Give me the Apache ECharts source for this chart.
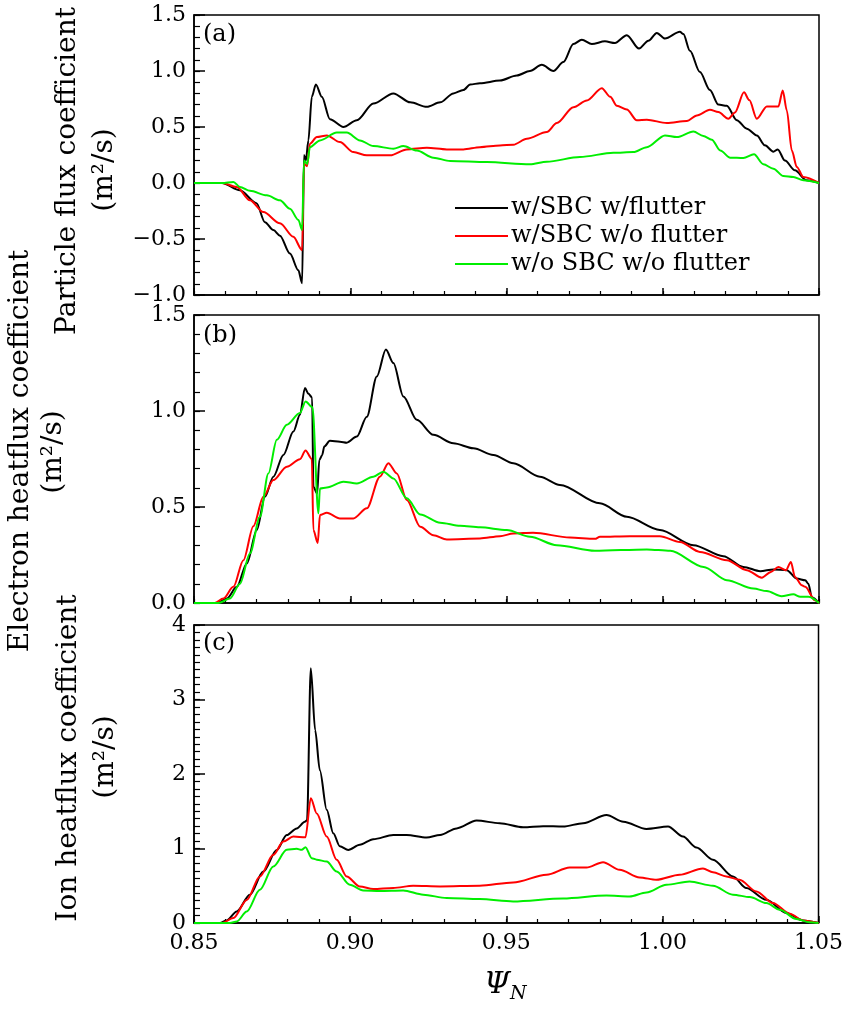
<!DOCTYPE html>
<html>
<head>
<meta charset="utf-8">
<script src="https://cdn.jsdelivr.net/npm/echarts@6/dist/echarts.min.js"></script>
<style>html,body{margin:0;padding:0;background:#fff}#c{width:846px;height:1009px}</style>
</head>
<body>
<div id="c"></div>
<script>
// ---------- data ----------
const seriesNames = ['w/SBC w/flutter', 'w/SBC w/o flutter', 'w/o SBC w/o flutter'];
const xTickLabels = ['0.85', '0.90', '0.95', '1.00', '1.05'];

// Panel (a) particle flux coefficient
const aK_x = [0.85,0.859,0.8647,0.870,0.8727,0.8754,0.8775,0.8807,0.8834,0.8846,0.8852,0.8858,0.8866,0.8877,0.889,0.8909,0.8935,0.8978,0.9021,0.9074,0.9138,0.9192,0.9245,0.9288,0.933,0.9362,0.9384,0.9415,0.9479,0.9533,0.9575,0.9613,0.965,0.9682,0.9714,0.9741,0.9773,0.9815,0.9847,0.9885,0.9924,0.9954,0.9981,1.0007,1.0055,1.0066,1.0087,1.0119,1.0151,1.0178,1.0205,1.0237,1.0269,1.0301,1.0327,1.0354,1.0368,1.0391,1.0423,1.046,1.05];
const aK_y = [0,0,-0.065,-0.18,-0.35,-0.42,-0.47,-0.63,-0.78,-0.895,0.25,0.2,0.38,0.77,0.88,0.77,0.57,0.50,0.56,0.71,0.80,0.72,0.68,0.72,0.80,0.83,0.88,0.89,0.915,0.96,1.00,1.055,1.0,1.08,1.24,1.28,1.24,1.265,1.25,1.32,1.20,1.27,1.34,1.29,1.35,1.33,1.18,0.99,0.83,0.70,0.69,0.56,0.485,0.425,0.336,0.28,0.30,0.20,0.113,0.024,0];
const aR_x = [0.85,0.859,0.8637,0.8679,0.8722,0.8775,0.8818,0.8846,0.8852,0.8862,0.8871,0.8893,0.8925,0.8967,0.901,0.9053,0.9128,0.9181,0.9245,0.9309,0.9362,0.9415,0.9479,0.9522,0.9565,0.9629,0.9661,0.9714,0.9757,0.9805,0.9832,0.9853,0.9885,0.9917,0.9949,1.0013,1.0077,1.0109,1.0151,1.0178,1.021,1.0231,1.026,1.0277,1.0301,1.0333,1.037,1.0384,1.0397,1.0413,1.0429,1.045,1.05];
const aR_y = [0,0,-0.035,-0.154,-0.26,-0.36,-0.48,-0.60,0.175,0.15,0.35,0.41,0.425,0.365,0.276,0.247,0.247,0.30,0.315,0.30,0.30,0.32,0.335,0.342,0.395,0.455,0.535,0.677,0.737,0.847,0.77,0.69,0.657,0.56,0.565,0.535,0.553,0.603,0.654,0.633,0.574,0.63,0.81,0.74,0.574,0.684,0.684,0.826,0.648,0.29,0.143,0.053,0];
const aG_x = [0.85,0.859,0.8626,0.8647,0.8679,0.8733,0.8775,0.8807,0.8834,0.8846,0.8852,0.8862,0.8871,0.8903,0.8957,0.8989,0.9031,0.9074,0.9138,0.917,0.9213,0.9266,0.932,0.9437,0.9575,0.9629,0.9735,0.9842,0.9906,0.9949,1.0007,1.0045,1.0098,1.013,1.0157,1.0184,1.0216,1.0258,1.0292,1.0322,1.0354,1.0386,1.0418,1.045,1.05];
const aG_y = [0,0,0.01,-0.035,-0.07,-0.11,-0.154,-0.23,-0.33,-0.42,0.2,0.17,0.32,0.38,0.45,0.45,0.38,0.33,0.306,0.33,0.29,0.226,0.196,0.187,0.167,0.19,0.232,0.27,0.276,0.32,0.425,0.41,0.46,0.42,0.387,0.29,0.226,0.223,0.256,0.167,0.128,0.062,0.053,0.024,0];

// Panel (b) electron heatflux coefficient
const bK_x = [0.85,0.8573,0.8605,0.8637,0.8669,0.8701,0.8727,0.8754,0.8786,0.8818,0.8839,0.8855,0.8866,0.8878,0.8882,0.8894,0.8901,0.891,0.8917,0.8935,0.8967,0.8989,0.9021,0.9053,0.9085,0.9114,0.9138,0.917,0.9213,0.9266,0.933,0.9394,0.9458,0.9522,0.9607,0.9671,0.9799,0.9885,0.9991,1.0098,1.0194,1.0258,1.0312,1.0354,1.0397,1.0429,1.0456,1.0466,1.0477,1.05];
const bK_y = [0,0,0.023,0.084,0.206,0.38,0.553,0.658,0.771,0.893,0.98,1.12,1.09,1.07,0.605,0.57,0.745,0.77,0.815,0.845,0.84,0.835,0.867,0.97,1.18,1.32,1.25,1.076,0.954,0.876,0.832,0.806,0.771,0.728,0.658,0.615,0.519,0.449,0.38,0.301,0.244,0.188,0.166,0.175,0.171,0.127,0.118,0.10,0.03,0];
const bR_x = [0.85,0.8566,0.8594,0.8626,0.8658,0.869,0.8722,0.8754,0.8797,0.8839,0.8857,0.8877,0.8882,0.8896,0.8903,0.8925,0.8967,0.901,0.9053,0.9095,0.9122,0.9149,0.9181,0.9224,0.9266,0.9309,0.9415,0.9479,0.9522,0.9585,0.9703,0.9783,0.9799,0.9895,0.9991,1.0055,1.0119,1.0205,1.0269,1.0317,1.0346,1.037,1.0394,1.041,1.0423,1.0445,1.0456,1.0487,1.05];
const bR_y = [0,0,0.023,0.084,0.223,0.40,0.553,0.64,0.71,0.749,0.794,0.75,0.38,0.313,0.458,0.47,0.44,0.44,0.493,0.658,0.728,0.675,0.536,0.397,0.353,0.331,0.336,0.348,0.362,0.366,0.341,0.334,0.345,0.348,0.348,0.318,0.266,0.223,0.171,0.132,0.162,0.188,0.171,0.214,0.136,0.092,0.085,0.014,0];
const bG_x = [0.85,0.8578,0.8615,0.8647,0.8679,0.8711,0.8738,0.8765,0.8797,0.8839,0.8857,0.8879,0.8898,0.8903,0.8925,0.8978,0.9021,0.9074,0.9106,0.9138,0.9181,0.9224,0.9288,0.9352,0.9415,0.9501,0.9575,0.9661,0.9783,0.9949,1.0024,1.0131,1.0205,1.029,1.0333,1.038,1.0418,1.044,1.0466,1.05];
const bG_y = [0,0,0.023,0.10,0.258,0.449,0.675,0.85,0.928,0.989,1.05,1.02,0.467,0.597,0.602,0.632,0.623,0.658,0.684,0.649,0.545,0.461,0.418,0.402,0.394,0.38,0.345,0.301,0.272,0.279,0.272,0.188,0.119,0.075,0.062,0.035,0.045,0.032,0.032,0];

// Panel (c) ion heatflux coefficient
const cK_x = [0.85,0.8583,0.8605,0.8637,0.8679,0.8722,0.8765,0.8797,0.8829,0.8855,0.8862,0.8874,0.8888,0.8903,0.8925,0.8946,0.8967,0.8994,0.9031,0.9074,0.9138,0.9181,0.9245,0.9288,0.9341,0.9405,0.9479,0.9554,0.9618,0.9682,0.9746,0.9821,0.9875,0.9949,1.0018,1.0066,1.0109,1.0162,1.0226,1.0269,1.0333,1.0397,1.045,1.05];
const cK_y = [0,0,0.035,0.155,0.38,0.69,0.98,1.18,1.27,1.36,1.38,3.42,2.59,2.05,1.52,1.205,1.03,0.98,1.05,1.125,1.18,1.18,1.147,1.18,1.27,1.375,1.34,1.286,1.30,1.294,1.34,1.45,1.36,1.263,1.294,1.16,1.013,0.848,0.624,0.469,0.312,0.134,0.035,0];
const cR_x = [0.85,0.859,0.8626,0.8669,0.8711,0.8754,0.8786,0.8818,0.8857,0.8874,0.8893,0.8925,0.8957,0.8989,0.9031,0.9074,0.9138,0.9202,0.9288,0.9415,0.9522,0.9629,0.9703,0.9757,0.981,0.9863,0.9927,0.9981,1.0055,1.013,1.0162,1.0205,1.0247,1.0301,1.0354,1.0408,1.045,1.05];
const cR_y = [0,0,0.067,0.31,0.625,0.915,1.093,1.16,1.15,1.675,1.47,1.16,0.848,0.624,0.49,0.455,0.47,0.50,0.49,0.50,0.544,0.647,0.745,0.745,0.817,0.714,0.611,0.58,0.647,0.732,0.68,0.625,0.58,0.424,0.268,0.125,0.035,0];
const cG_x = [0.85,0.8615,0.8637,0.8669,0.8711,0.8754,0.8797,0.8829,0.8845,0.8857,0.8877,0.8893,0.8925,0.8957,0.8999,0.9042,0.9095,0.917,0.9234,0.9309,0.9415,0.9522,0.9682,0.9821,0.9895,0.9949,1.0013,1.0087,1.0162,1.0226,1.028,1.0333,1.0376,1.0429,1.0471,1.05];
const cG_y = [0,0,0.02,0.155,0.446,0.758,0.982,0.995,0.982,1.018,0.87,0.85,0.825,0.69,0.513,0.437,0.43,0.437,0.38,0.335,0.321,0.29,0.33,0.37,0.357,0.41,0.513,0.557,0.50,0.38,0.348,0.268,0.178,0.053,0.01,0];

// ---------- chart ----------
const FONT = 'DejaVu Serif';
const colors = ['#000000', '#ff0000', '#00ee00'];
const zip = (xs, ys) => xs.map((x, i) => [x, ys[i]]);
const panels = [
  [zip(aK_x, aK_y), zip(aR_x, aR_y), zip(aG_x, aG_y)],
  [zip(bK_x, bK_y), zip(bR_x, bR_y), zip(bG_x, bG_y)],
  [zip(cK_x, cK_y), zip(cR_x, cR_y), zip(cG_x, cG_y)]
];
const gridBox = [
  {left: 194, top: 15, width: 625, height: 280},
  {left: 194, top: 315, width: 625, height: 288},
  {left: 194, top: 625, width: 625, height: 298}
];
const yCfg = [
  {min: -1, max: 1.5, interval: 0.5, minorInt: 0.1, fmt: v => (v < 0 ? '\u2212' : '') + Math.abs(v).toFixed(1)},
  {min: 0, max: 1.5, interval: 0.5, minorInt: 0.1, fmt: v => v.toFixed(1)},
  {min: 0, max: 4, interval: 1, minorInt: 0.1, fmt: v => String(Math.round(v))}
];
const lineCol = {color: '#000', width: 1.5};

const chart = echarts.init(document.getElementById('c'), null, {renderer: 'canvas'});
const series = [];
panels.forEach((p, gi) => {
  p.forEach((d, si) => {
    series.push({
      name: seriesNames[si], type: 'line', xAxisIndex: gi, yAxisIndex: gi,
      data: d, symbol: 'none', showSymbol: false, smooth: 0.3, smoothMonotone: 'x', animation: false,
      lineStyle: {color: colors[si], width: 2}, itemStyle: {color: colors[si]},
      z: 2 + si
    });
  });
});

const rotText = (x, y, text, size) => ({
  type: 'text', x: x, y: y, rotation: Math.PI / 2,
  style: {text: text, font: size + 'px "' + FONT + '"', fill: '#000',
          textAlign: 'center', textVerticalAlign: 'middle', align: 'center', verticalAlign: 'middle'}
});
const plainText = (x, y, text, font, align) => ({
  type: 'text', x: x, y: y,
  style: {text: text, font: font, fill: '#000', textAlign: align || 'left', textVerticalAlign: 'middle', align: align || 'left', verticalAlign: 'middle'}
});

// major axes (0..2) + minor-tick axes (3..5)
const xAxes = [0, 1, 2].map(i => ({
  type: 'value', gridIndex: i, min: 0.85, max: 1.05, interval: 0.05,
  axisLine: {show: true, onZero: false, lineStyle: lineCol},
  axisTick: {show: true, inside: true, length: 7, lineStyle: lineCol},
  splitLine: {show: false},
  axisLabel: {show: i === 2, margin: 9, color: '#000', fontFamily: FONT, fontSize: 22,
    formatter: v => xTickLabels[Math.round((v - 0.85) / 0.05)]}
})).concat([0, 1, 2].map(i => ({
  type: 'value', gridIndex: i, position: 'bottom', min: 0.85, max: 1.05, interval: 0.01,
  axisLine: {show: false, onZero: false},
  axisTick: {show: true, inside: true, length: 4, lineStyle: {color: '#000', width: 1.2}},
  splitLine: {show: false}, axisLabel: {show: false}
})));
const yAxes = yCfg.map((c, i) => ({
  type: 'value', gridIndex: i, min: c.min, max: c.max, interval: c.interval,
  axisLine: {show: true, onZero: false, lineStyle: lineCol},
  axisTick: {show: true, inside: true, length: 11, lineStyle: lineCol},
  splitLine: {show: false},
  axisLabel: {margin: 8, color: '#000', fontFamily: FONT, fontSize: 22, formatter: c.fmt}
})).concat(yCfg.map((c, i) => ({
  type: 'value', gridIndex: i, position: 'left', min: c.min, max: c.max, interval: c.minorInt,
  axisLine: {show: false, onZero: false},
  axisTick: {show: true, inside: true, length: 6, lineStyle: {color: '#000', width: 1.2}},
  splitLine: {show: false}, axisLabel: {show: false}
})));

chart.setOption({
  animation: false,
  backgroundColor: '#fff',
  grid: gridBox.map(g => Object.assign({show: true, borderColor: '#000', borderWidth: 1.5, backgroundColor: 'transparent'}, g)),
  xAxis: xAxes,
  yAxis: yAxes,
  legend: {
    show: true, orient: 'vertical', left: 450, top: 191, itemWidth: 53, itemHeight: 2, itemGap: 4,
    icon: 'rect', data: seriesNames, selectedMode: false,
    textStyle: {fontFamily: FONT, fontSize: 24, color: '#000', padding: [0, 0, 0, -2]}
  },
  series: series,
  graphic: [
    plainText(203, 35, '(a)', '24px "' + FONT + '"'),
    plainText(203, 336, '(b)', '24px "' + FONT + '"'),
    plainText(203, 644, '(c)', '24px "' + FONT + '"'),
    rotText(68, 171, 'Particle flux coefficient', 28),
    rotText(105, 170, '(m\u00b2/s)', 28),
    rotText(21, 451, 'Electron heatflux coefficient', 28),
    rotText(54, 452, '(m\u00b2/s)', 28),
    rotText(69, 758, 'Ion heatflux coefficient', 28),
    rotText(106, 757, '(m\u00b2/s)', 28),
    plainText(484, 985, '\u03a8', 'italic 30px "' + FONT + '"'),
    plainText(510, 994, 'N', 'italic 19px "' + FONT + '"')
  ]
});
</script>
</body>
</html>
